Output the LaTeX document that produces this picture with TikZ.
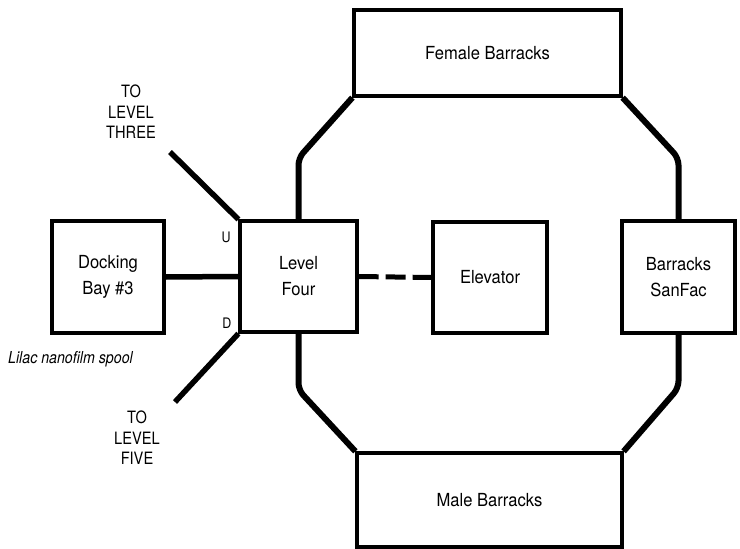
\documentclass[tikz,border=0pt]{standalone}
\usepackage{fontspec}
\setmainfont{TeX Gyre Heros}[FakeStretch=0.92]
\newfontfamily\lblfont{TeX Gyre Heros}[FakeStretch=0.86]
\begin{document}
\begin{tikzpicture}[x=1pt,y=-1pt,
  box/.style={draw, line width=3.2pt, inner sep=0pt, align=center,
    font=\fontsize{18}{26}\selectfont},
  pipe/.style={line width=5.5pt, line join=round},
  ring/.style={line width=6pt, line join=round, rounded corners=7pt},
  lbl/.style={align=center, inner sep=0pt, font=\lblfont\fontsize{17}{20.5}\selectfont},
  ud/.style={inner sep=0pt, font=\lblfont\fontsize{14.5}{16}\selectfont}]
\useasboundingbox (0,0) rectangle (740,549);
\fill[white] (0,0) rectangle (740,549);

\node[box, minimum width=112pt, minimum height=112pt] (db) at (108,277) {Docking\\Bay \#3};
\node[box, minimum width=117pt, minimum height=111pt] (lf) at (298.5,276.5) {Level\\Four};
\node[box, minimum width=114pt, minimum height=111pt] (el) at (490,277.5) {Elevator};
\node[box, minimum width=113pt, minimum height=112pt] (sf) at (678.5,277) {Barracks\\SanFac};
\node[box, minimum width=267pt, minimum height=86pt] (fb) at (487.5,53) {Female Barracks};
\node[box, minimum width=265pt, minimum height=94pt] (mb) at (489.5,500) {Male Barracks};

\coordinate (t3) at (170,152);
\coordinate (t5) at (175,402);

% ring corridor
\draw[ring] (fb.south west) -- (lf.north |- 0,158) -- (lf.north);
\draw[ring] (fb.south east) -- (sf.north |- 0,158) -- (sf.north);
\draw[ring] (sf.south) -- (sf.south |- 0,388) -- (mb.north east);
\draw[ring] (lf.south) -- (lf.south |- 0,390) -- (mb.north west);

% other connectors
\draw[pipe] (db.east) -- (lf.west);
\draw[line width=5pt, dash pattern=on 20pt off 7pt] (lf.east) -- (el.west);
\draw[pipe] (lf.north west) -- (t3);
\draw[pipe] (lf.south west) -- (t5);

% labels
\node[ud] (u) at (226,237) {U};
\node[ud] (d) at (227,323) {D};
\node[lbl] (l3) at (131,112) {TO\\LEVEL\\THREE};
\node[lbl] (l5) at (137,438) {TO\\LEVEL\\FIVE};
\node[anchor=base west, inner sep=0pt, font=\lblfont\itshape\fontsize{16.5}{20}\selectfont] (sp) at (8,363) {Lilac nanofilm spool};
\end{tikzpicture}
\end{document}
